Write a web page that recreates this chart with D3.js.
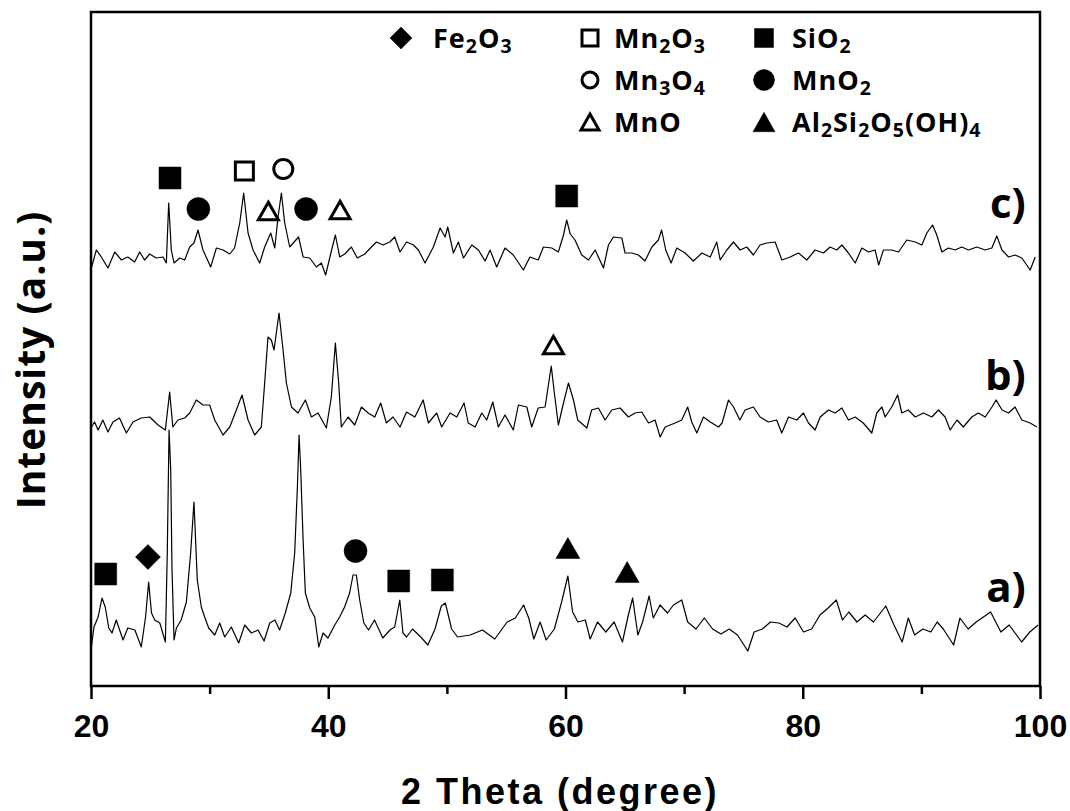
<!DOCTYPE html>
<html>
  <head>
    <meta charset="utf-8" />
    <title>XRD patterns</title>
    <script src="https://d3js.org/d3.v7.min.js" charset="utf-8"></script>
    <style>
      body { margin: 0; background: #fff; }
      .axis text { font-family: "Liberation Sans", Arial, sans-serif; font-weight: bold; font-size: 32px; fill: #000; }
      .axis line { stroke: #000; stroke-width: 2.5; }
      .axis path { display: none; }
      .legend text, .tag { font-family: "Open Sans", "Noto Sans", sans-serif; fill: #000; }
    </style>
  </head>
  <body>
    <svg id="canvas" width="1070" height="811"></svg>
    <script>
      // 2theta (deg), intensity (a.u., relative to each pattern's own baseline)
      const seriesA = [
        [20.03,-13],[20.25,7],[20.6,17],[20.93,36],[21.2,27],[21.5,6],[21.77,1],[22.13,14],[22.7,-6],[23.1,6],
        [23.7,4],[24.24,-13],[24.6,17],[24.86,52],[25.1,21],[25.37,14],[25.8,11],[26.27,-8],[26.43,81],[26.58,204],
        [26.72,164],[26.83,64],[27.0,-6],[27.2,6],[27.6,14],[28.04,32],[28.4,81],[28.68,132],[28.96,54],[29.3,27],
        [29.58,17],[29.92,6],[30.43,-1],[30.85,11],[31.27,-3],[31.83,7],[32.45,-9],[32.96,9],[33.52,1],[34.08,4],
        [34.59,-7],[35.07,11],[35.5,14],[35.9,4],[36.38,21],[36.84,41],[37.17,81],[37.4,147],[37.54,199],[37.68,164],
        [37.88,94],[38.07,41],[38.44,26],[38.86,17],[39.2,-13],[39.56,1],[39.98,-4],[40.55,9],[40.96,17],[41.38,27],
        [41.8,41],[42.09,59],[42.37,59],[42.65,34],[43.0,11],[43.4,4],[43.9,14],[44.6,-4],[45.2,4],[45.6,7],
        [46.03,34],[46.3,1],[46.6,-3],[47.1,5],[47.8,-3],[48.4,-11],[49.0,5],[49.53,28],[49.87,31],[50.4,5],
        [50.9,-3],[51.96,-1],[53.0,4],[54.04,-5],[55.08,12],[55.77,16],[56.47,29],[56.9,16],[57.33,-5],[57.86,12],
        [58.37,-6],[59.06,5],[59.65,31],[60.2,58],[60.6,22],[61.05,12],[61.67,14],[62.08,-5],[62.7,12],[63.4,2],
        [64.1,12],[64.8,-8],[65.3,19],[65.66,36],[66.1,-1],[66.5,12],[67.05,38],[67.4,16],[67.97,29],[68.6,21],
        [69.1,29],[69.8,34],[70.3,12],[71.0,5],[71.7,16],[72.4,5],[73.1,0],[73.8,5],[74.5,-1],[75.37,-17],
        [75.9,2],[76.6,5],[77.28,12],[77.98,11],[78.67,7],[79.36,16],[80.06,2],[80.75,5],[81.45,19],[82.14,26],
        [82.83,34],[83.35,14],[83.88,22],[84.57,12],[85.26,19],[85.96,12],[87.0,28],[87.69,9],[88.38,-8],[88.9,16],
        [89.43,-1],[90.12,5],[90.8,2],[91.33,12],[91.85,5],[92.72,-11],[93.25,16],[93.94,5],[94.62,12],[95.84,22],
        [96.7,2],[97.4,9],[98.45,-8],[99.14,2],[99.84,9]
      ];
      const seriesB = [
        [20.03,-3],[20.3,2],[20.6,-6],[21.0,4],[21.43,-8],[21.85,2],[22.4,6],[22.98,-9],[23.54,2],[24.24,6],
        [24.95,7],[25.65,-1],[26.27,-6],[26.63,32],[26.9,-3],[27.33,4],[27.9,6],[28.32,11],[28.88,24],[29.44,19],
        [30.0,19],[30.43,4],[31.13,-11],[31.7,-3],[32.25,14],[32.73,29],[33.24,4],[33.8,-11],[34.36,-3],[34.64,41],
        [34.92,87],[35.2,84],[35.43,74],[35.85,111],[36.19,74],[36.47,41],[36.9,17],[37.45,11],[38.07,24],[38.58,7],
        [39.14,11],[39.84,-4],[40.26,27],[40.6,81],[40.88,41],[41.1,-3],[41.67,7],[42.23,-1],[42.8,17],[43.36,11],
        [43.92,7],[44.42,21],[44.9,1],[45.46,7],[46.05,-3],[46.6,12],[47.3,7],[48.0,24],[48.44,1],[49.14,11],
        [49.56,-3],[50.27,11],[50.83,7],[51.45,21],[51.8,1],[52.38,-3],[52.94,11],[53.36,4],[53.87,22],[54.34,-3],
        [54.9,9],[55.6,-6],[56.03,19],[56.74,17],[57.15,-3],[57.7,16],[58.28,17],[58.8,58],[59.06,31],[59.4,-1],
        [59.83,21],[60.25,41],[60.67,24],[61.03,4],[61.8,-4],[62.2,14],[62.77,16],[63.34,4],[63.9,14],[64.6,16],
        [65.3,7],[65.87,11],[66.43,12],[67.0,1],[67.55,4],[67.98,-13],[68.4,-3],[69.24,1],[69.8,4],[70.3,17],
        [70.64,2],[71.07,-9],[71.63,7],[72.2,2],[72.9,-3],[73.2,1],[73.74,24],[74.16,17],[74.7,4],[75.14,14],
        [75.84,17],[76.4,7],[77.1,2],[77.8,4],[78.23,-9],[78.8,7],[79.5,4],[80.06,11],[80.48,1],[81.04,-6],
        [81.47,7],[82.17,14],[82.73,11],[83.3,16],[83.85,4],[84.42,7],[85.1,1],[85.82,-9],[86.24,11],[86.67,17],
        [86.95,7],[87.5,17],[88.0,29],[88.35,11],[88.9,14],[89.48,7],[90.18,11],[90.88,7],[91.44,14],[92.0,7],
        [92.43,-6],[93.0,4],[93.54,-3],[94.25,7],[94.8,11],[95.38,7],[95.95,17],[96.3,24],[96.8,14],[97.35,11],
        [97.9,17],[98.47,4],[99.17,1],[99.74,-3]
      ];
      const seriesC = [
        [20.03,-10],[20.45,8],[20.87,1],[21.43,-10],[22.0,6],[22.56,-2],[23.1,1],[23.68,-4],[24.1,6],[24.52,-2],
        [24.94,4],[25.5,0],[26.07,1],[26.35,-5],[26.55,55],[26.77,8],[27.0,-5],[27.48,0],[27.9,-2],[28.32,11],
        [28.68,15],[29.02,28],[29.44,8],[30.09,-9],[30.57,10],[31.13,8],[31.7,4],[32.1,10],[32.54,35],[32.87,65],
        [33.24,25],[33.66,8],[34.22,-5],[34.64,11],[35.15,25],[35.49,10],[35.77,41],[36.05,65],[36.33,35],[36.75,11],
        [37.12,16],[37.5,21],[37.88,1],[38.44,0],[39.0,-9],[39.42,-5],[39.78,-17],[40.2,4],[40.6,23],[40.97,1],
        [41.39,4],[41.95,11],[42.45,0],[43.08,4],[43.64,11],[44.06,16],[44.62,13],[45.19,16],[45.6,21],[46.05,6],
        [46.6,16],[47.18,13],[47.6,8],[48.16,-5],[48.86,11],[49.43,30],[49.85,21],[50.07,31],[50.55,5],[50.97,16],
        [51.4,0],[52.1,13],[52.66,8],[53.22,-3],[53.64,8],[54.2,-9],[54.9,10],[55.6,3],[56.45,-12],[57.0,1],
        [57.7,-2],[58.14,11],[58.84,10],[59.4,6],[59.83,23],[60.1,38],[60.4,24],[60.8,18],[61.37,3],[61.94,-2],
        [62.5,8],[63.2,-10],[63.62,13],[64.04,21],[64.75,20],[65.02,5],[65.6,5],[66.15,3],[66.7,-3],[67.28,11],
        [67.83,18],[68.1,28],[68.45,8],[68.9,-5],[69.38,10],[70.08,5],[70.78,-3],[71.5,5],[72.2,1],[72.75,16],
        [73.04,-2],[73.6,8],[74.16,16],[74.72,8],[75.28,11],[75.84,3],[76.4,13],[76.97,15],[77.67,16],[78.24,-2],
        [78.94,1],[79.64,5],[80.34,-2],[81.04,8],[81.75,5],[82.3,11],[82.87,8],[83.3,13],[83.85,5],[84.42,-5],
        [84.98,10],[85.54,6],[86.1,8],[86.4,-7],[86.8,8],[87.5,8],[88.07,6],[88.77,18],[89.48,16],[90.04,13],
        [90.46,25],[90.94,33],[91.3,23],[91.73,6],[92.28,10],[92.85,8],[93.4,11],[93.97,8],[94.67,11],[95.38,8],
        [95.94,10],[96.36,22],[96.79,8],[97.35,1],[97.9,3],[98.47,0],[99.17,-12],[99.6,1]
      ];
      const seriesList = [seriesA, seriesB, seriesC];
      const seriesNames = ["a)", "b)", "c)"];
      const seriesOffsets = [52, 262, 428];

      // phase markers: 2theta, absolute level, shape
      const markTheta = [26.66, 29.05, 32.93, 34.95, 36.21, 38.13, 41.0, 60.1,
                         58.98,
                         21.24, 24.8, 42.3, 45.94, 49.62, 60.2, 65.2];
      const markLevel = [508, 477, 515, 475, 517, 477, 476, 490,
                         341,
                         112, 129, 135, 105, 106, 138, 114];
      const markShape = ["sq", "ci", "osq", "otri", "oci", "ci", "otri", "sq",
                         "otri",
                         "sq", "dia", "ci", "sq", "sq", "tri", "tri"];

      // legend
      const legendNames = ["Fe{2}O{3}", "Mn{2}O{3}", "SiO{2}", "Mn{3}O{4}", "MnO{2}", "MnO", "Al{2}Si{2}O{5}(OH){4}"];
      const legendShapes = ["dia", "osq", "sq", "oci", "ci", "otri", "tri"];
      const legendCol = [0, 1, 2, 1, 2, 1, 2];
      const legendRow = [0, 0, 0, 1, 1, 2, 2];

      const majorTicks = [20, 40, 60, 80, 100];
      const minorTicks = [30, 50, 70, 90];

      const plotLeft = 91, plotRight = 1040, plotTop = 12, plotBottom = 686;
      const canvas = d3.select("#canvas");

      const x = d3.scaleLinear().domain([20, 100]).range([plotLeft, plotRight]);
      const y = d3.scaleLinear().domain([0, 674]).range([plotBottom, plotTop]);

      // symbol path centred on 0,0, s = size in px
      function shapePath(type, s) {
        const h = s / 2;
        if (type == "sq" || type == "osq") {
          return `M${-h},${-h}H${h}V${h}H${-h}Z`;
        }
        if (type == "dia") {
          return `M0,${-h}L${h},0L0,${h}L${-h},0Z`;
        }
        if (type == "tri" || type == "otri") {
          const th = s * 0.88;
          return `M0,${-th / 2}L${h},${th / 2}L${-h},${th / 2}Z`;
        }
        return `M${h},0A${h},${h} 0 1,1 ${-h},0A${h},${h} 0 1,1 ${h},0Z`;
      }
      function drawShape(g, type, cx, cy, s) {
        const open = type.charAt(0) == "o";
        g.append("path")
          .attr("d", shapePath(type, open ? s - 3 : s))
          .attr("transform", `translate(${cx},${cy})`)
          .attr("fill", open ? "#fff" : "#000")
          .attr("stroke", "#000")
          .attr("stroke-width", open ? 3 : 0.5)
          .attr("stroke-linejoin", "miter");
      }
      const plotSize = { sq: 22, osq: 21, ci: 23, oci: 22, otri: 23, tri: 24, dia: 25 };
      const legendSize = { sq: 19, osq: 19, ci: 21, oci: 19, otri: 21, tri: 22, dia: 22 };

      // chemical formula with subscripts, "{n}" = subscript
      function formula(textSel, str, size) {
        const parts = str.split(/(\{\d\})/).filter(p => p.length);
        let down = false;
        parts.forEach(p => {
          const isSub = p.charAt(0) == "{";
          let dy = 0;
          if (isSub && !down) { dy = size * 0.2; down = true; }
          if (!isSub && down) { dy = -size * 0.2; down = false; }
          textSel.append("tspan")
            .text(isSub ? p.slice(1, -1) : p)
            .attr("font-size", isSub ? size * 0.72 : size)
            .attr("dy", dy);
        });
      }

      // frame
      canvas.append("rect")
        .attr("x", plotLeft).attr("y", plotTop)
        .attr("width", plotRight - plotLeft).attr("height", plotBottom - plotTop)
        .attr("fill", "none").attr("stroke", "#000").attr("stroke-width", 2.5);

      // x axis
      canvas.append("g").attr("class", "axis")
        .attr("transform", `translate(0,${plotBottom})`)
        .call(d3.axisBottom(x).tickValues(majorTicks).tickSize(13).tickPadding(15).tickFormat(d3.format("d")));
      canvas.append("g").attr("class", "axis")
        .attr("transform", `translate(0,${plotBottom})`)
        .call(d3.axisBottom(x).tickValues(minorTicks).tickSize(8).tickFormat(""));

      canvas.append("text")
        .attr("x", 560).attr("y", 804)
        .attr("text-anchor", "middle")
        .style("font-family", "'Liberation Sans', Arial, sans-serif")
        .style("font-weight", "bold").style("font-size", "36px")
        .style("letter-spacing", "2.5px")
        .text("2 Theta (degree)");

      canvas.append("text")
        .attr("transform", "translate(45,360) rotate(-90)")
        .attr("text-anchor", "middle")
        .style("font-family", "'Open Sans', sans-serif")
        .style("font-weight", "bold").style("font-size", "39px")
        .style("letter-spacing", "1px")
        .text("Intensity (a.u.)");

      // patterns
      seriesList.forEach(function (data, i) {
        const line = d3.line()
          .x(d => x(d[0]))
          .y(d => y(d[1] + seriesOffsets[i]));
        canvas.append("path")
          .datum(data)
          .attr("d", line)
          .attr("fill", "none")
          .attr("stroke", "#000")
          .attr("stroke-width", 1.2)
          .attr("stroke-linejoin", "round");
      });

      // pattern labels
      const tagLevel = [84, 296, 468];
      seriesNames.forEach(function (name, i) {
        canvas.append("text")
          .attr("class", "tag")
          .attr("x", x(98.8)).attr("y", y(tagLevel[i]))
          .attr("text-anchor", "end")
          .style("font-weight", "bold").style("font-size", "42px")
          .text(name);
      });

      // phase markers
      const markG = canvas.append("g");
      markTheta.forEach(function (t, i) {
        drawShape(markG, markShape[i], x(t), y(markLevel[i]), plotSize[markShape[i]]);
      });

      // legend
      const colX = [401, 590, 764];
      const textDx = [32, 24, 28];
      const rowY = [38, 80, 122];
      const legend = canvas.append("g").attr("class", "legend");
      legendNames.forEach(function (name, i) {
        const cx = colX[legendCol[i]], cy = rowY[legendRow[i]];
        drawShape(legend, legendShapes[i], cx, cy, legendSize[legendShapes[i]]);
        const t = legend.append("text")
          .attr("x", cx + textDx[legendCol[i]]).attr("y", cy + 10)
          .style("font-weight", "bold")
          .style("letter-spacing", "1px");
        formula(t, name, 27);
      });
    </script>
  </body>
</html>
